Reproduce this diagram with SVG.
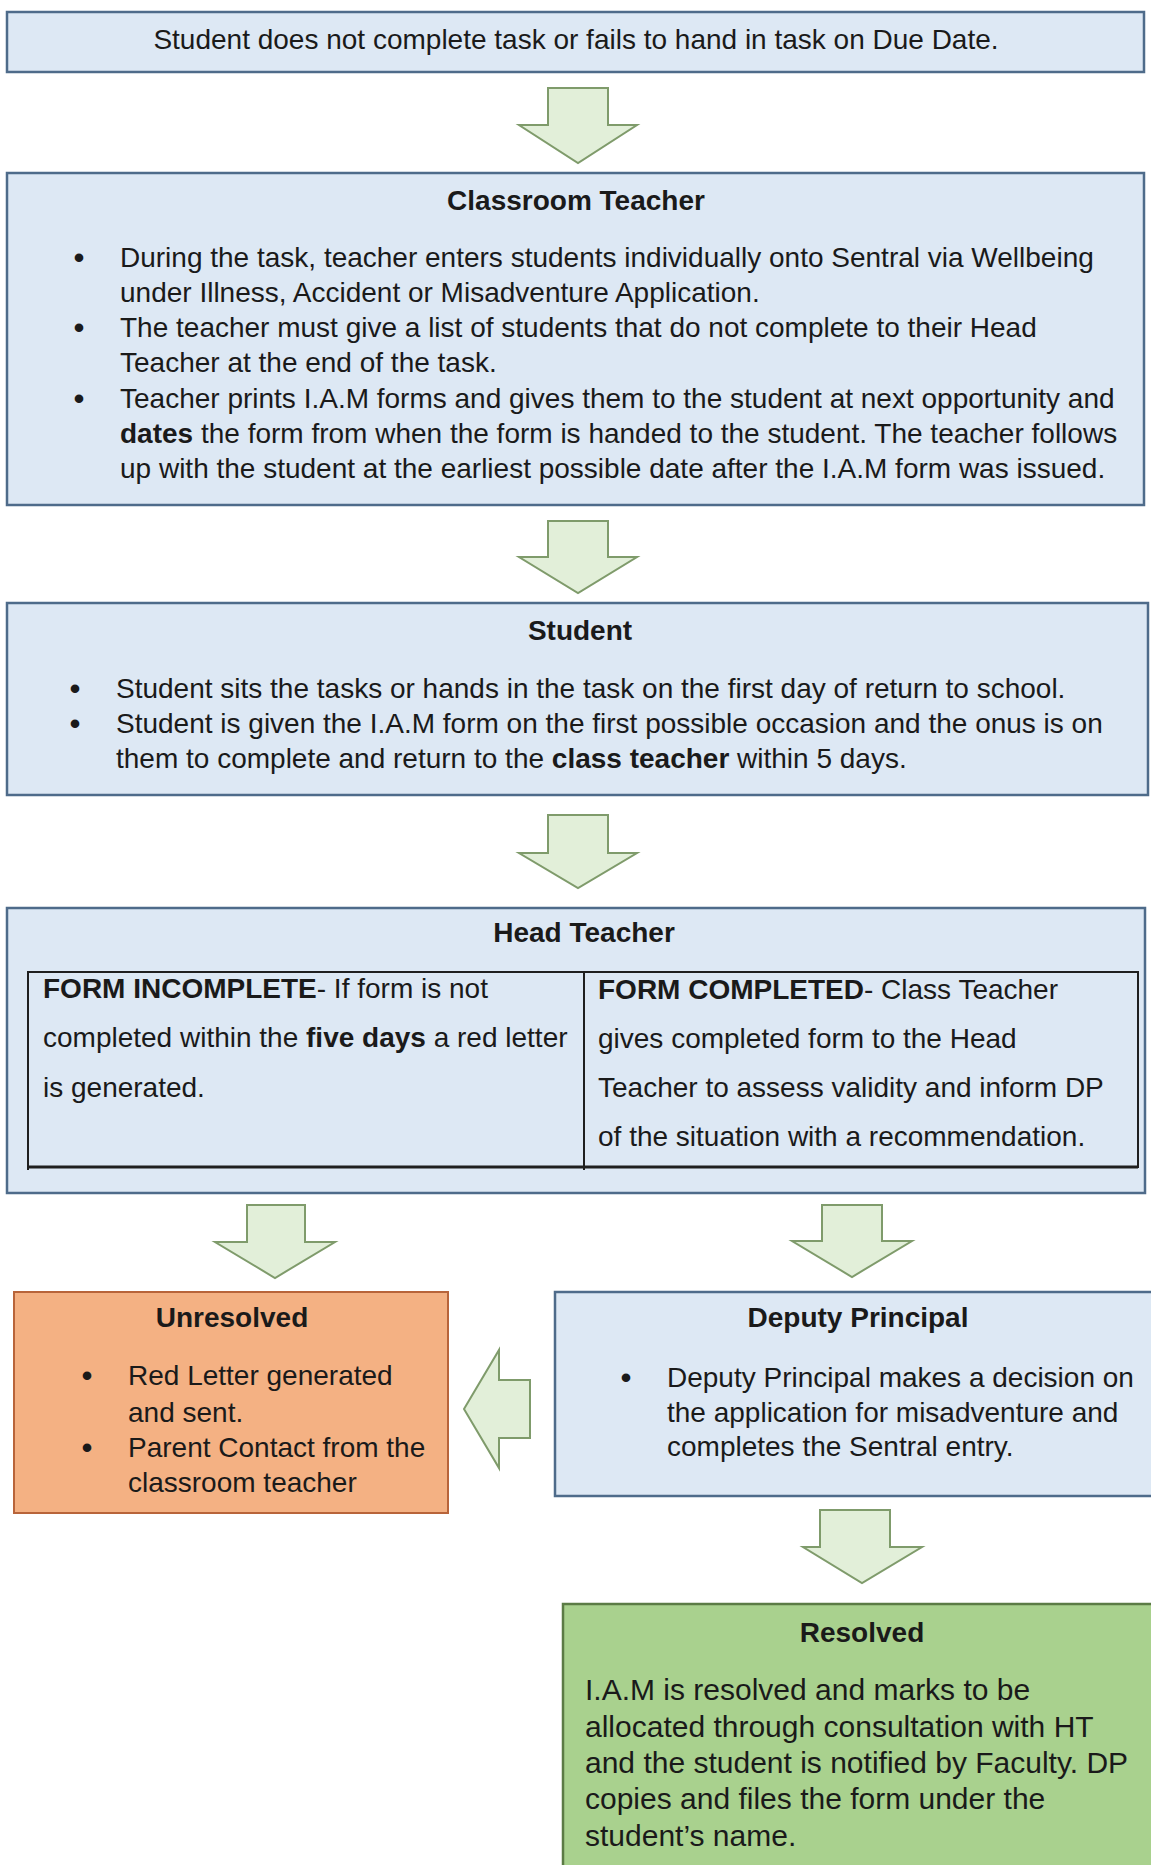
<svg xmlns="http://www.w3.org/2000/svg" width="1151" height="1865" viewBox="0 0 1151 1865">
<style>
text{font-family:"Liberation Sans",Arial,sans-serif;font-size:28px;fill:#1a1a1a}
.t{font-weight:bold;text-anchor:middle}
.b{font-weight:bold}
.bul{text-anchor:middle;font-size:30px;font-weight:bold}
.blue{fill:#dde8f4;stroke:#4e6b8a;stroke-width:2.5}
.orange{fill:#f4b183;stroke:#b8643a;stroke-width:2}
.green{fill:#a9d18e;stroke:#5b7b45;stroke-width:2.5}
.arr{fill:#e2efd9;stroke:#7f9b6b;stroke-width:2;stroke-linejoin:miter}
.tbl{stroke:#1f1f1f;fill:none}
.big{font-size:30px}
</style>
<rect width="1151" height="1865" fill="#ffffff"/>

<g id="connectors">
<polygon class="arr" points="548,88 608,88 608,125 637,125 578,163 519,125 548,125"/>
<polygon class="arr" points="548,521 608,521 608,557 637,557 578,593 519,557 548,557"/>
<polygon class="arr" points="548,815 608,815 608,853 637,853 578,888 519,853 548,853"/>
<polygon class="arr" points="247,1205 305,1205 305,1242 335,1242 275,1278 215,1242 247,1242"/>
<polygon class="arr" points="822,1205 882,1205 882,1241 912,1241 852,1277 792,1241 822,1241"/>
<polygon class="arr" points="820,1510 890,1510 890,1547 922,1547 862,1583 803,1547 820,1547"/>
<polygon class="arr" points="464,1409 499,1350 499,1380 530,1380 530,1438 499,1438 499,1468"/>
</g>

<g id="node-due-date">
<rect class="blue" x="7" y="12" width="1137" height="60"/>
<text x="576" y="49" text-anchor="middle">Student does not complete task or fails to hand in task on Due Date.</text>
</g>

<g id="node-classroom-teacher">
<rect class="blue" x="7" y="173" width="1137" height="332"/>
<text class="t" x="576" y="210">Classroom Teacher</text>
<text class="bul" x="79" y="268">•</text>
<text x="120" y="267">During the task, teacher enters students individually onto Sentral via Wellbeing</text>
<text x="120" y="302">under Illness, Accident or Misadventure Application.</text>
<text class="bul" x="79" y="338">•</text>
<text x="120" y="337">The teacher must give a list of students that do not complete to their Head</text>
<text x="120" y="372">Teacher at the end of the task.</text>
<text class="bul" x="79" y="409">•</text>
<text x="120" y="408">Teacher prints I.A.M forms and gives them to the student at next opportunity and</text>
<text x="120" y="443"><tspan class="b">dates</tspan> the form from when the form is handed to the student. The teacher follows</text>
<text x="120" y="478">up with the student at the earliest possible date after the I.A.M form was issued.</text>
</g>

<g id="node-student">
<rect class="blue" x="7" y="603" width="1141" height="192"/>
<text class="t" x="580" y="640">Student</text>
<text class="bul" x="75" y="699">•</text>
<text x="116" y="698">Student sits the tasks or hands in the task on the first day of return to school.</text>
<text class="bul" x="75" y="734">•</text>
<text x="116" y="733">Student is given the I.A.M form on the first possible occasion and the onus is on</text>
<text x="116" y="768">them to complete and return to the <tspan class="b">class teacher</tspan> within 5 days.</text>
</g>

<g id="node-head-teacher">
<rect class="blue" x="7" y="908" width="1138" height="285"/>
<text class="t" x="584" y="942">Head Teacher</text>
<line class="tbl" x1="28" y1="972" x2="1138" y2="972" stroke-width="2"/>
<line class="tbl" x1="28" y1="971" x2="28" y2="1170" stroke-width="2"/>
<line class="tbl" x1="1138" y1="971" x2="1138" y2="1168" stroke-width="2"/>
<line class="tbl" x1="584" y1="972" x2="584" y2="1170" stroke-width="2"/>
<line class="tbl" x1="28" y1="1167" x2="1138" y2="1167" stroke-width="3"/>
<text x="43" y="998"><tspan class="b">FORM INCOMPLETE</tspan>- If form is not</text>
<text x="43" y="1047">completed within the <tspan class="b">five days</tspan> a red letter</text>
<text x="43" y="1097">is generated.</text>
<text x="598" y="999"><tspan class="b">FORM COMPLETED</tspan>- Class Teacher</text>
<text x="598" y="1048">gives completed form to the Head</text>
<text x="598" y="1097">Teacher to assess validity and inform DP</text>
<text x="598" y="1146">of the situation with a recommendation.</text>
</g>

<g id="node-unresolved">
<rect class="orange" x="14" y="1292" width="434" height="221"/>
<text class="t" x="232" y="1327">Unresolved</text>
<text class="bul" x="87" y="1386">•</text>
<text x="128" y="1385">Red Letter generated</text>
<text x="128" y="1422">and sent.</text>
<text class="bul" x="87" y="1458">•</text>
<text x="128" y="1457">Parent Contact from the</text>
<text x="128" y="1492">classroom teacher</text>
</g>

<g id="node-deputy-principal">
<rect class="blue" x="555" y="1292" width="600" height="204"/>
<text class="t" x="858" y="1327">Deputy Principal</text>
<text class="bul" x="626" y="1388">•</text>
<text x="667" y="1387">Deputy Principal makes a decision on</text>
<text x="667" y="1422">the application for misadventure and</text>
<text x="667" y="1456">completes the Sentral entry.</text>
</g>

<g id="node-resolved">
<rect class="green" x="563" y="1604" width="600" height="270"/>
<text class="t" x="862" y="1642">Resolved</text>
<text class="big" x="585" y="1700">I.A.M is resolved and marks to be</text>
<text class="big" x="585" y="1737">allocated through consultation with HT</text>
<text class="big" x="585" y="1773">and the student is notified by Faculty. DP</text>
<text class="big" x="585" y="1809">copies and files the form under the</text>
<text class="big" x="585" y="1846">student’s name.</text>
</g>
</svg>
